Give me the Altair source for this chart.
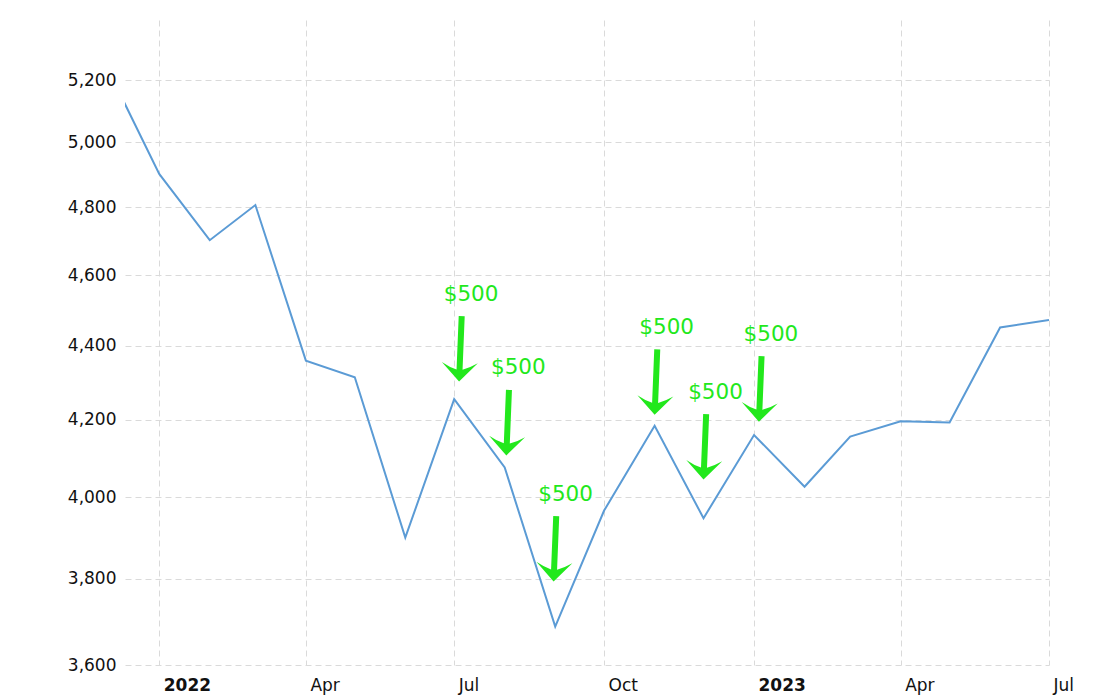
import altair as alt
import pandas as pd

# Monthly series
dates = ["2021-12-01", "2022-01-01", "2022-02-01", "2022-03-01", "2022-04-01",
         "2022-05-01", "2022-06-01", "2022-07-01", "2022-08-01", "2022-09-01",
         "2022-10-01", "2022-11-01", "2022-12-01", "2023-01-01", "2023-02-01",
         "2023-03-01", "2023-04-01", "2023-05-01", "2023-06-01", "2023-07-01"]
values = [5230, 4902, 4702, 4807, 4359, 4314, 3900, 4255, 4076, 3688,
          3967, 4184, 3948, 4160, 4027, 4156, 4196, 4193, 4451, 4472]

# Annotation arrows ("$500"), tip positions
arrow_dates = ["2022-07-04", "2022-08-02", "2022-08-31", "2022-11-01", "2022-12-01", "2023-01-04"]
arrow_values = [4302, 4107, 3794, 4213, 4045, 4195]
arrow_labels = ["$500", "$500", "$500", "$500", "$500", "$500"]

y_ticks = [3600, 3800, 4000, 4200, 4400, 4600, 4800, 5000, 5200]
x_ticks = [(2022, 1), (2022, 4), (2022, 7), (2022, 10), (2023, 1), (2023, 4), (2023, 7)]

line_df = pd.DataFrame({"date": dates, "value": values})
arrow_df = pd.DataFrame({"date": arrow_dates, "value": arrow_values, "label": arrow_labels})

GREEN = "#22e81c"
BLUE = "#5b9bd5"
GRID = "#dadada"
ARROW = ("M0,0 L-1.8,-1.9 Q-1.0,-1.4 -0.3,-1.2 L-0.3,-6.55 "
         "L0.3,-6.55 L0.3,-1.2 Q1.0,-1.4 1.8,-1.9 Z")

x_scale = alt.Scale(type="utc", domain=[alt.DateTime(year=2021, month=12, date=11, utc=True),
                                        alt.DateTime(year=2023, month=7, date=1, utc=True)])
y_scale = alt.Scale(type="log", domain=[3600, 5400], nice=False)

x_axis = alt.Axis(
    values=[alt.DateTime(year=y, month=m, date=1, utc=True) for y, m in x_ticks],
    labelExpr="utcmonth(datum.value) == 0 ? utcFormat(datum.value, '%Y') : utcFormat(datum.value, '%b')",
    labelFontWeight={"condition": {"test": "utcmonth(datum.value) == 0", "value": "bold"}, "value": "normal"},
    grid=True, gridDash=[6, 4], gridColor=GRID, gridWidth=1,
    domain=False, ticks=False, labelAlign="left", labelOffset=4, labelPadding=12,
    labelFlush=False, labelOverlap=False, labelFont="DejaVu Sans", labelFontSize=17,
    labelColor="#111", title=None,
)
y_axis = alt.Axis(
    values=y_ticks, format=",", grid=True, gridDash=[6, 4], gridColor=GRID, gridWidth=1,
    domain=False, ticks=False, labelPadding=9, labelFont="DejaVu Sans", labelFontSize=17,
    labelColor="#111", title=None,
)

line = alt.Chart(line_df).mark_line(color=BLUE, strokeWidth=2, clip=True).encode(
    x=alt.X("date:T", scale=x_scale, axis=x_axis),
    y=alt.Y("value:Q", scale=y_scale, axis=y_axis),
)

arrows = alt.Chart(arrow_df).mark_point(
    shape=ARROW, size=400, filled=True, color=GREEN, opacity=1, angle=2.3, strokeWidth=0
).encode(
    x=alt.X("date:T", scale=x_scale),
    y=alt.Y("value:Q", scale=y_scale),
)

labels = alt.Chart(arrow_df).mark_text(
    dx=12, dy=-87, fontSize=21.5, font="DejaVu Sans", color=GREEN, align="center", baseline="middle"
).encode(
    x=alt.X("date:T", scale=x_scale),
    y=alt.Y("value:Q", scale=y_scale),
    text="label:N",
)

chart = alt.layer(line, arrows, labels).properties(
    width=924, height=645,
    autosize=alt.AutoSizeParams(type="none"),
    padding={"left": 117, "top": 12, "right": 53, "bottom": 35},
    view=alt.ViewBackground(stroke=None, strokeWidth=0),
).configure_view(strokeWidth=0, stroke=None).configure(background="white")

chart.save("out.html", embed_options={"renderer": "svg", "actions": False})
